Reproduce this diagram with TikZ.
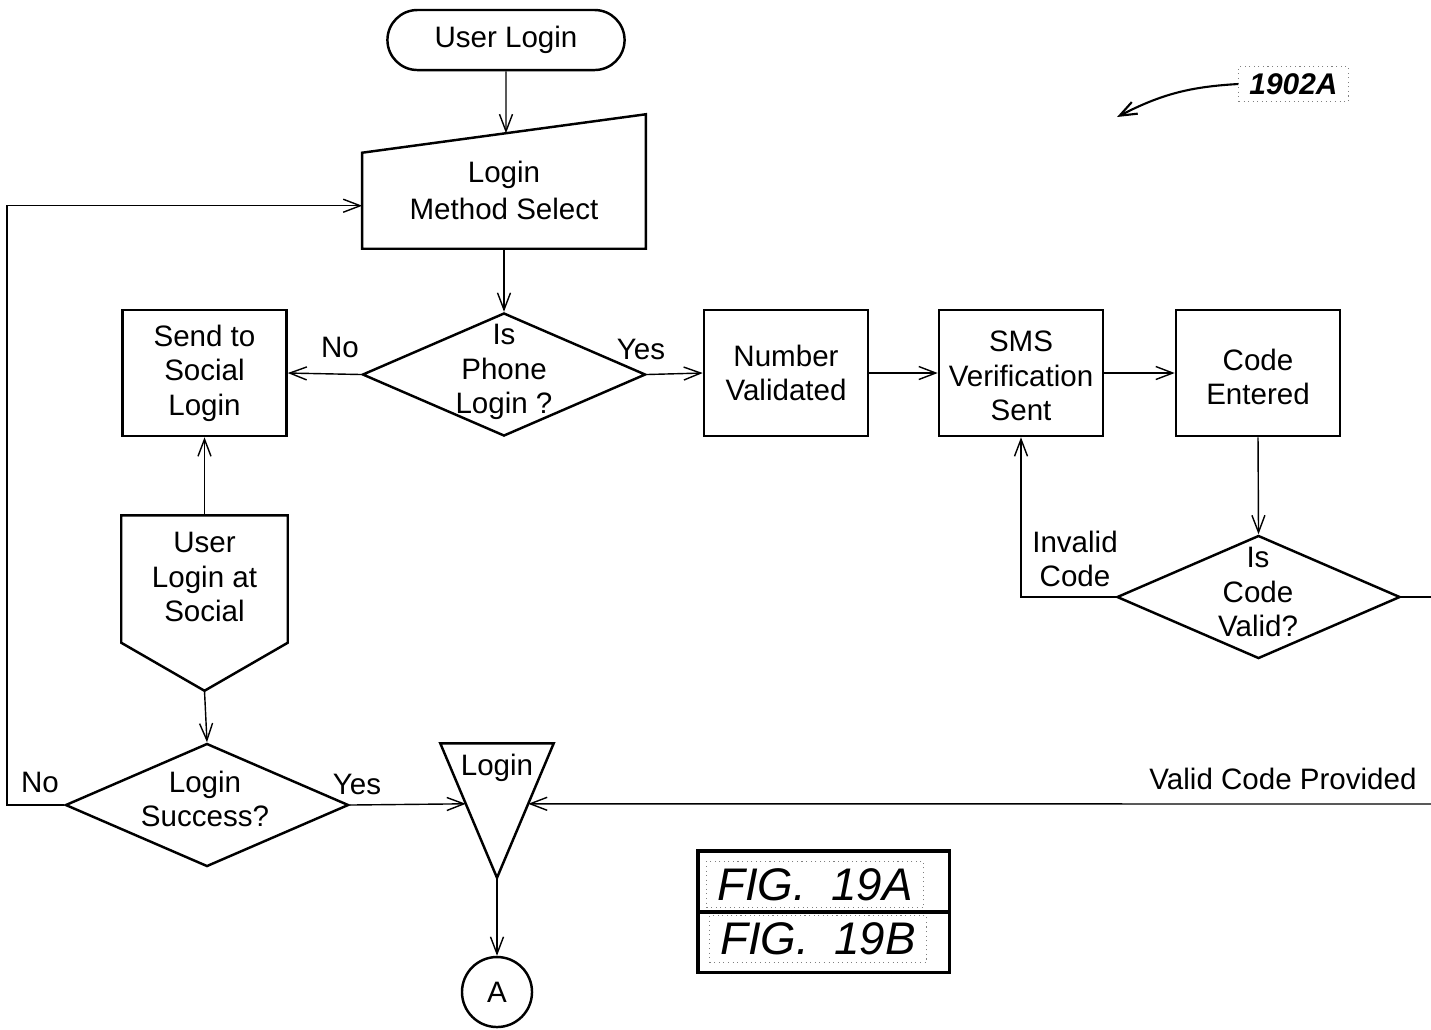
\documentclass[tikz,border=0pt]{standalone}
\usepackage{fontspec}
\setmainfont{Liberation Sans}
\usetikzlibrary{shapes.geometric,arrows.meta,positioning,calc}

\begin{document}
\begin{tikzpicture}[x=0.01cm, y=-0.01cm,
    font=\fontsize{8.4}{9.8}\selectfont,
    >={Straight Barb[length=1.7mm,width=1.3mm]},
    conn/.style={->, line width=0.4pt},
    plainline/.style={line width=0.4pt},
    outline/.style={line width=0.7pt},
    txt/.style={align=center, inner sep=0pt},
    terminal/.style={rectangle, draw, outline, rounded corners=0.3cm, minimum width=2.37cm, minimum height=0.6cm},
    process/.style={rectangle, draw, outline, align=center, inner sep=0pt, minimum width=1.64cm, minimum height=1.26cm},
    decision/.style={diamond, draw, outline, inner sep=0pt, minimum width=2.83cm, minimum height=1.23cm},
    frame/.style={rectangle, inner sep=0pt, minimum width=#1},
    connector/.style={circle, draw, outline, inner sep=0pt, minimum size=0.7cm},
    figbox/.style={rectangle, draw, line width=0.9pt, minimum width=2.51cm, minimum height=0.61cm},
    figtext/.style={draw=gray, densely dotted, line width=0.3pt, inner xsep=3pt, inner ysep=2pt, font=\fontsize{13}{13}\selectfont\itshape}
]
    \useasboundingbox (0,0) rectangle (1431,1029);

    % top: start and method select
    \node[terminal] (start) at (506,40) {User Login};
    \node[frame=2.82cm, minimum height=1.33cm] (select) at (504,181.5) {};
    \coordinate (selectnw) at ($(select.south west)+(0,0.96cm)$);
    \draw[outline] (select.south west) -- (select.south east) -- (select.north east) -- (selectnw) -- cycle;
    \node[txt] (selecttext) at (504,190) {Login\\[0.7pt]Method Select};
    \coordinate (selecttop) at ($(selectnw)!0.507!(select.north east)$);
    \coordinate (selectin) at ($(select.south west)+(0,0.43cm)$);

    % phone branch
    \node[decision] (isphone) at (504,374.5) {};
    \node[txt] (isphonetext) at (504,372) {Is\\Phone\\Login ?};
    \node[process] (social) at (204.5,373) {Send to\\Social\\Login};
    \node[process] (numval) at (786,373) {Number\\Validated};
    \node[process] (sms) at (1021,373) {};
    \node[txt] (smstext) at (1021,376) {SMS\\Verification\\Sent};
    \node[process] (code) at (1258,373) {};
    \node[txt] (codetext) at (1258,377) {Code\\Entered};
    \node[decision] (isvalid) at (1258.5,597) {};
    \node[txt] (isvalidtext) at (1258,592) {Is\\Code\\Valid?};

    % social login (off-page shape)
    \node[frame=1.65cm, minimum height=1.74cm] (usersocial) at (204.5,603) {};
    \draw[outline] (usersocial.north west) -- (usersocial.north east)
        -- ($(usersocial.south east)+(0,0.48cm)$) -- (usersocial.south)
        -- ($(usersocial.south west)+(0,0.48cm)$) -- cycle;
    \node[txt] (usersocialtext) at (204.5,577) {User\\Login at\\Social};
    \node[decision] (success) at (207,805) {};
    \node[txt] (successtext) at (205,799) {Login\\Success?};

    % merge triangle and page connector
    \node[frame=1.12cm, minimum height=1.33cm] (merge) at (497,810.5) {};
    \draw[outline] (merge.north west) -- (merge.north east) -- (merge.south) -- cycle;
    \node[txt] (mergetext) at (497,768) {Login};
    \coordinate (mergeW) at ($(merge.north west)!0.45!(merge.south)$);
    \coordinate (mergeE) at ($(merge.north east)!0.45!(merge.south)$);
    \node[connector] (conA) at (497,992) {A};

    % cut ends at the right edge
    \coordinate (cutA) at (1431,597);
    \coordinate (cutB) at (1431,804);

    % connectors
    \draw[conn] (start.south) -- (selecttop);
    \draw[conn] (select.south) -- (isphone.north);
    \draw[conn] (isphone.west) -- (social.east);
    \draw[conn] (isphone.east) -- (numval.west);
    \draw[conn] (numval) -- (sms);
    \draw[conn] (sms) -- (code);
    \draw[conn] (code.south) -- (isvalid.north);
    \draw[conn] (isvalid.west) -| (sms.south);
    \draw[plainline] (isvalid.east) -- (cutA);
    \draw[conn] (usersocial.north) -- (social.south);
    \draw[conn] (usersocial.south) -- (success.north);
    \draw[conn] (success.west) -- ++(-0.57cm,0) |- (selectin);
    \draw[conn] (success.east) -- (mergeW);
    \draw[conn] (cutB) -- (mergeE);
    \draw[conn] (merge.south) -- (conA.north);

    % branch labels
    \node[txt] (nophone) at (340,347) {No};
    \node[txt] (yesphone) at (641,349) {Yes};
    \node[txt] (invalid) at (1075,559) {Invalid\\Code};
    \node[txt] (validcode) at (1283,779) {Valid Code Provided};
    \node[txt] (nosuccess) at (40,782) {No};
    \node[txt] (yessuccess) at (357,784) {Yes};

    % figure reference
    \node[figtext, font=\fontsize{8.5}{8.5}\selectfont\bfseries\itshape] (tag) at (1293.5,84) {1902A};
    \coordinate (tagtip) at (1117,117);
    \draw[->, line width=0.6pt] (tag.west) to[bend right=12] (tagtip);

    % sheet key
    \node[figbox] (figa) at (823.5,881.5) {};
    \node[figbox] (figb) at (823.5,942) {};
    \node[figtext] (figatext) at (815,884.5) {FIG.\ \ 19A};
    \node[figtext] (figbtext) at (818,939) {FIG.\ \ 19B};
\end{tikzpicture}
\end{document}
